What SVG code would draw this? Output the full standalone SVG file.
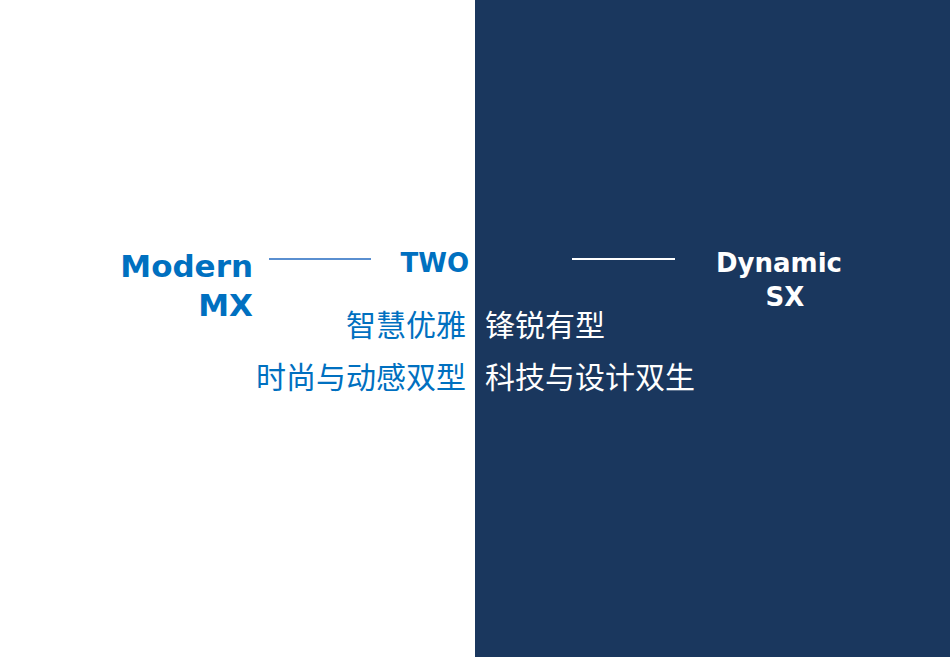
<svg xmlns="http://www.w3.org/2000/svg" width="950" height="658" viewBox="0 0 950 658">
<style>
.en{font-family:"DejaVu Sans",sans-serif;font-weight:bold}
.cn{font-family:"Noto Sans CJK SC",sans-serif;font-size:30px}
.b{fill:#0070C0}.w{fill:#FFFFFF}
</style>
<rect width="950" height="658" fill="#FFFFFF"/>
<rect x="475" y="0" width="475" height="657" fill="#1A375E"/>
<g id="connectors">
<line x1="269" y1="259" x2="371" y2="259" stroke="#5A8FD0" stroke-width="2"/>
<line x1="572" y1="259" x2="675" y2="259" stroke="#FFFFFF" stroke-width="2"/>
</g>
<g id="modern"><text class="en b" font-size="31" text-anchor="end" x="253" y="277">Modern</text><text class="en b" font-size="31" text-anchor="end" x="253" y="316">MX</text></g>
<g id="two"><text class="en b" font-size="26" text-anchor="end" x="469" y="272">TWO</text></g>
<g id="dynamic"><text class="en w" font-size="26" text-anchor="middle" x="779" y="272">Dynamic</text><text class="en w" font-size="26" text-anchor="middle" x="785" y="306">SX</text></g>
<g id="left-cn"><text class="cn b" text-anchor="end" x="466" y="336">智慧优雅</text><text class="cn b" text-anchor="end" x="466" y="388">时尚与动感双型</text></g>
<g id="right-cn"><text class="cn w" x="485" y="336">锋锐有型</text><text class="cn w" x="485" y="388">科技与设计双生</text></g>
</svg>
